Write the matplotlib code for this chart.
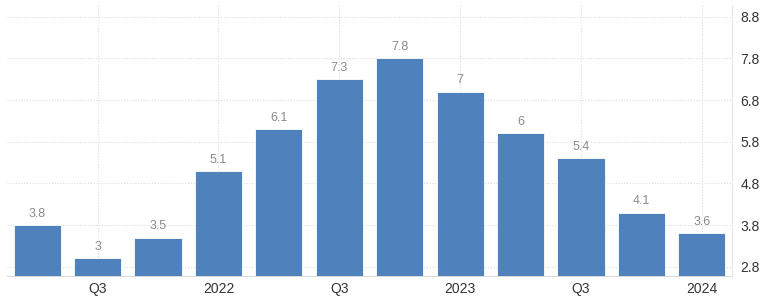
import numpy as np
import matplotlib.pyplot as plt

# quarterly values, 2021 Q1 .. 2024 Q1
values = [3.8, 3.0, 3.5, 5.1, 6.1, 7.3, 7.8, 7.0, 6.0, 5.4, 4.1, 3.6]
labels = ["3.8", "3", "3.5", "5.1", "6.1", "7.3", "7.8", "7", "6", "5.4", "4.1", "3.6"]
tick_pos = [1, 3, 5, 7, 9, 11]
tick_labels = ["Q3", "2022", "Q3", "2023", "Q3", "2024"]
yticks = [2.8, 3.8, 4.8, 5.8, 6.8, 7.8, 8.8]

plt.rcParams['font.family'] = ['Liberation Sans', 'DejaVu Sans']

fig = plt.figure(figsize=(7.68, 3.01), dpi=100)
ax = fig.add_axes([7 / 768, 25 / 301, 725 / 768, 271 / 301])

x = np.arange(len(values))
ax.bar(x, values, width=0.78, color="#4f81bd", edgecolor="white",
       linewidth=0.6, zorder=3)
for xi, v, lab in zip(x, values, labels):
    ax.text(xi, v + 0.13, lab, ha="center", va="bottom",
            fontsize=9, color="#8a8a8a", zorder=4)

ax.set_xlim(-0.5, 11.5)
ax.set_ylim(2.58, 9.08)
ax.set_xticks(tick_pos)
ax.set_xticklabels(tick_labels)
ax.set_yticks(yticks)
ax.set_yticklabels([str(t) for t in yticks])
ax.yaxis.tick_right()
ax.tick_params(axis="both", length=0, labelsize=10, colors="#333333")
ax.tick_params(axis="y", pad=6)
ax.tick_params(axis="x", pad=4)

ax.grid(True, linestyle=(0, (1, 1.5)), color="#dddddd", linewidth=0.8, zorder=0)
for s in ["top", "left"]:
    ax.spines[s].set_visible(False)
ax.spines["right"].set_color("#e6e6e6")
ax.spines["bottom"].set_color("#dddddd")

fig.savefig("out.png", dpi=100)
